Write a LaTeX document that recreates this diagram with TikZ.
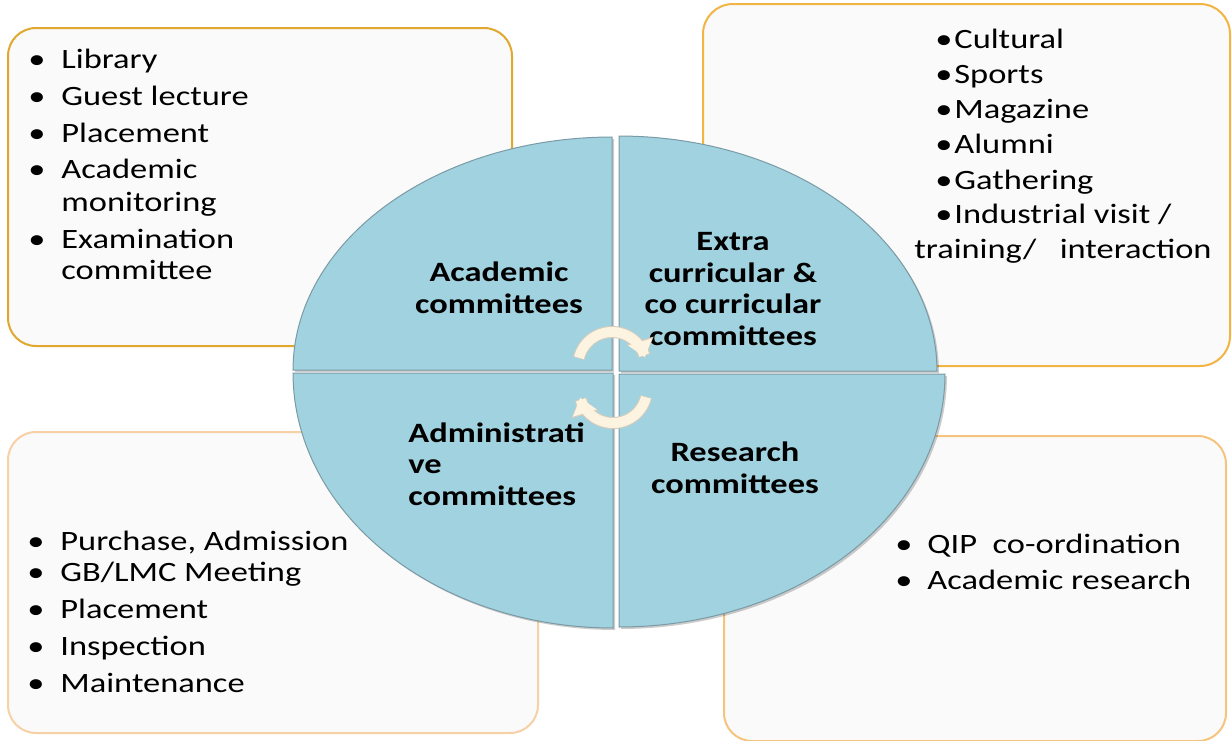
\documentclass[tikz,border=0pt]{standalone}
\usepackage{fontspec}
\setmainfont{Carlito}[FakeStretch=1.23]
\usetikzlibrary{arrows.meta}
\definecolor{quad}{HTML}{A1D2E0}
\definecolor{quadedge}{HTML}{7A9AA5}
\definecolor{boxfill}{HTML}{FAFAFA}
\definecolor{goldA}{HTML}{E0A82E}
\definecolor{goldB}{HTML}{F2B544}
\definecolor{peachC}{HTML}{F8D0A6}
\definecolor{peachD}{HTML}{F5C47E}
\definecolor{cream}{HTML}{FDF3E1}
\definecolor{creamedge}{HTML}{D6CCBC}
\newcommand{\listline}[5]{%
  \node[bulletmark] (#1b) at (#2,#4) {•};
  \node[listtext] (#1) at (#3,#4) {#5};}
\begin{document}
\begin{tikzpicture}[x=0.5pt,y=-0.5pt,
  infobox/.style={line width=1pt, fill=boxfill, rounded corners=14pt},
  listtext/.style={anchor=base west, inner sep=0pt, font=\fontsize{14pt}{18pt}\selectfont},
  bulletmark/.style={anchor=base, inner sep=0pt, font=\fontsize{14pt}{18pt}\selectfont},
  quadlabel/.style={inner sep=0pt, font=\bfseries\fontsize{14pt}{15.75pt}\selectfont},
  quadrant/.style={fill=quad, draw=quadedge, line width=0.5pt},
  qshadow/.style={fill=black, opacity=0.2},
  arrowedge/.style={draw=creamedge, line width=6pt, -{Triangle[length=9pt,width=13.5pt]}},
  arrowbody/.style={draw=cream, line width=5pt, -{Triangle[length=8pt,width=12pt]}},
]
\useasboundingbox (0,0) rectangle (1232,740);
\fill[white] (0,0) rectangle (1232,740);

% info boxes
\draw[infobox, draw=goldA] (8,28) rectangle (512,346);
\draw[infobox, draw=goldB, rounded corners=15pt] (703,4) rectangle (1230,366);
\draw[infobox, draw=peachC] (8,432) rectangle (538,733);
\draw[infobox, draw=peachD] (724,436) rectangle (1226,741);

% quadrant shadows
\fill[qshadow] (614,372) -- plot[domain=180:90, samples=60] ({614+319*cos(\x)},{372-233*sin(\x)}) -- cycle;
\fill[qshadow] (621,373) -- plot[domain=90:0, samples=60] ({621+318*cos(\x)},{373-235*sin(\x)}) -- cycle;
\fill[qshadow] (615,375) -- plot[domain=180:270, samples=60] ({615+320*cos(\x)},{375-255*sin(\x)}) -- cycle;
\fill[qshadow] (621,376) -- plot[domain=270:360, samples=60] ({621+326*cos(\x)},{376-253*sin(\x)}) -- cycle;

% quadrants
\draw[quadrant] (612,370) -- plot[domain=180:90, samples=60] ({612+319*cos(\x)},{370-233*sin(\x)}) -- cycle;
\draw[quadrant] (619,371) -- plot[domain=90:0, samples=60] ({619+318*cos(\x)},{371-235*sin(\x)}) -- cycle;
\draw[quadrant] (613,373) -- plot[domain=180:270, samples=60] ({613+320*cos(\x)},{373-255*sin(\x)}) -- cycle;
\draw[quadrant] (619,374) -- plot[domain=270:360, samples=60] ({619+326*cos(\x)},{374-253*sin(\x)}) -- cycle;

% quadrant labels (anchor=base is the baseline of the last line)
\node[quadlabel, align=center, anchor=base] (acad) at (499,313) {Academic\\committees};
\node[quadlabel, align=center, anchor=base] (extra) at (733,345) {Extra\\curricular \&\\co curricular\\committees};
\node[quadlabel, align=left, anchor=base west] (admin) at (408,505) {Administrati\\ve\\committees};
\node[quadlabel, align=center, anchor=base] (res) at (735,493) {Research\\committees};

% cycle arrows
\draw[arrowedge] plot[domain=167:14, samples=40] ({612+34*cos(\x)},{366-34*sin(\x)});
\draw[arrowbody] plot[domain=166:15, samples=40] ({612+34*cos(\x)},{366-34*sin(\x)});
\draw[arrowedge] plot[domain=347:194, samples=40] ({613+34*cos(\x)},{389-34*sin(\x)});
\draw[arrowbody] plot[domain=346:195, samples=40] ({613+34*cos(\x)},{389-34*sin(\x)});

% top-left list
\listline{tla}{37}{61}{68}{Library}
\listline{tlb}{37}{61}{105}{Guest lecture}
\listline{tlc}{37}{61}{142}{Placement}
\listline{tld}{37}{61}{178}{Academic}
\node[listtext] (tld2) at (61,211) {monitoring};
\listline{tle}{37}{61}{248}{Examination}
\node[listtext] (tle2) at (61,279) {committee};

% top-right list
\listline{tra}{944}{954}{48}{Cultural}
\listline{trb}{944}{954}{83}{Sports}
\listline{trc}{944}{954}{118}{Magazine}
\listline{trd}{944}{954}{153}{Alumni}
\listline{tre}{944}{954}{189}{Gathering}
\listline{trf}{944}{954}{223}{Industrial visit /}
\node[listtext] (trf2) at (914,258) {training/\ \ \ interaction};

% bottom-left list
\listline{bla}{36}{60}{550}{Purchase, Admission}
\listline{blb}{36}{60}{581}{GB/LMC Meeting}
\listline{blc}{36}{60}{618}{Placement}
\listline{bld}{36}{60}{655}{Inspection}
\listline{ble}{36}{60}{692}{Maintenance}

% bottom-right list
\listline{bra}{904}{927}{553}{QIP\ \ co-ordination}
\listline{brb}{904}{927}{589}{Academic research}
\end{tikzpicture}
\end{document}
